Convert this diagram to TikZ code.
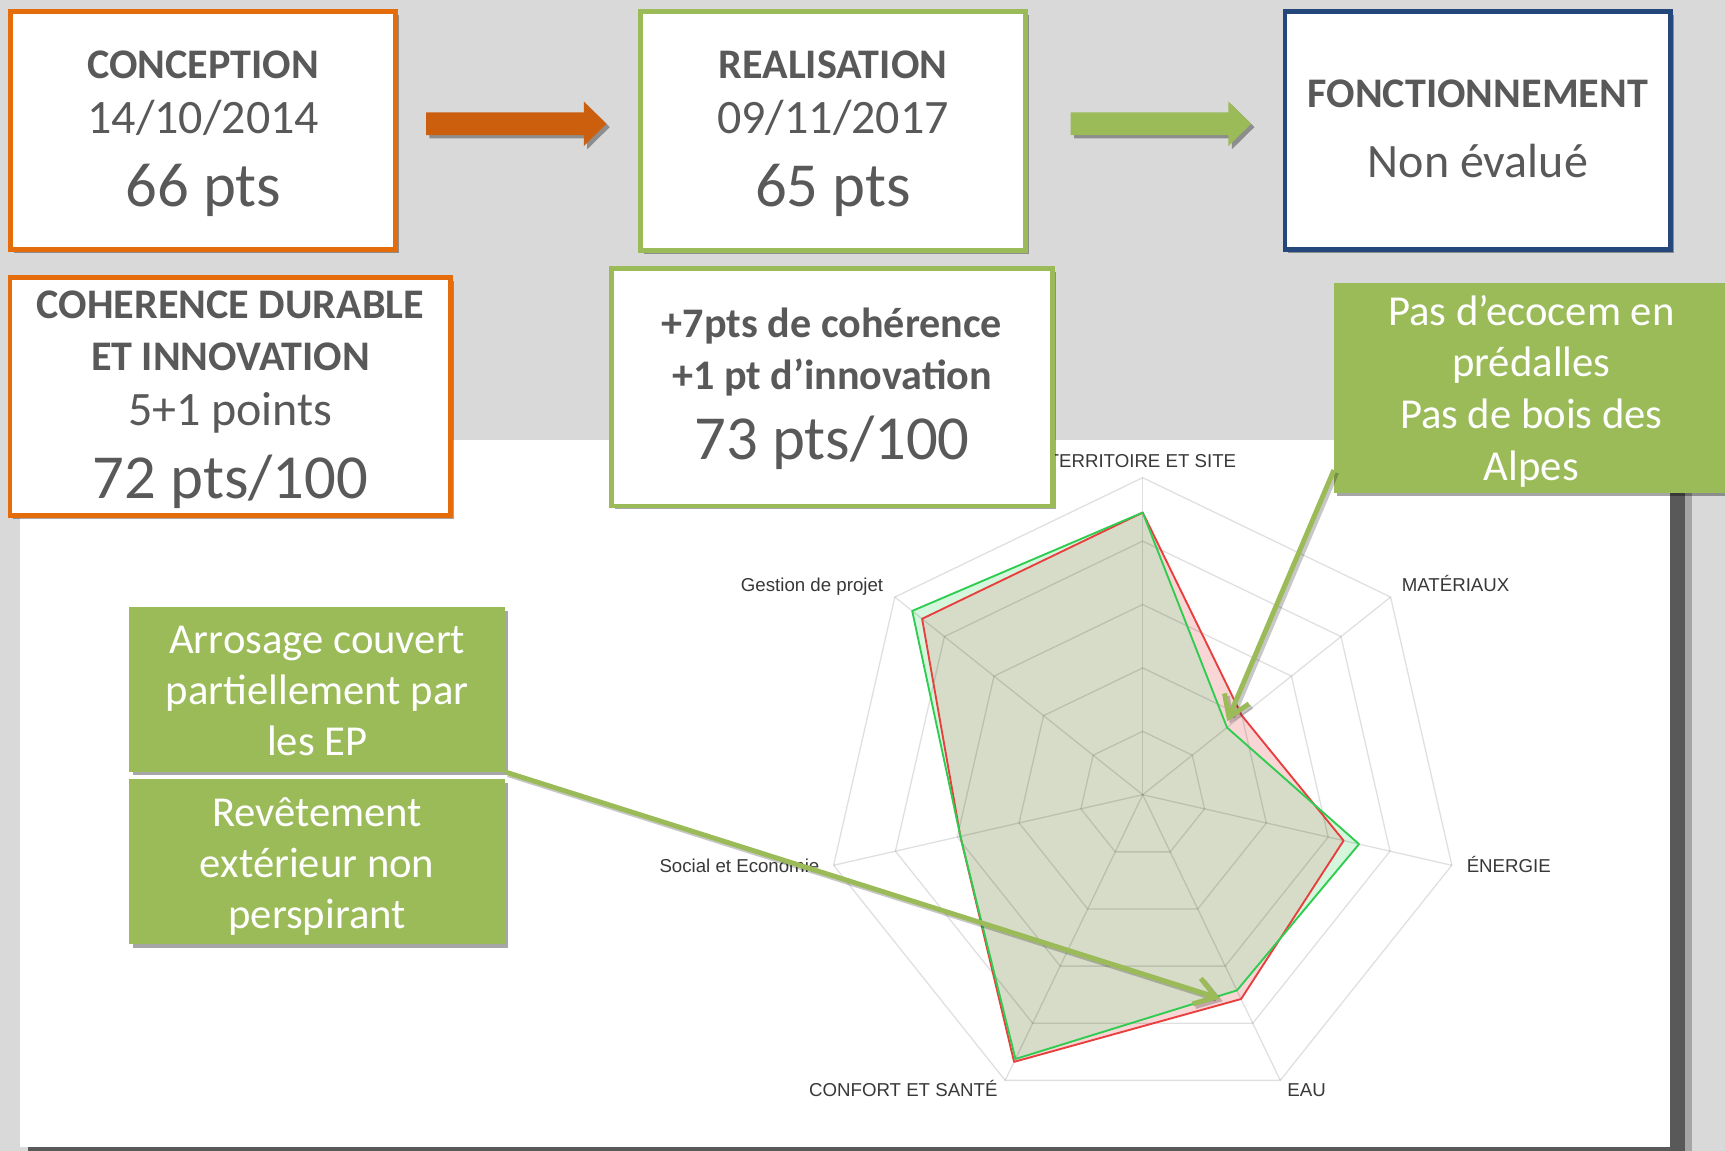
\documentclass[tikz,border=0pt]{standalone}
\usepackage{fontspec}
\setmainfont{Carlito}
\newfontfamily\chartfont{Liberation Sans}
\usetikzlibrary{shapes.arrows,shadows,arrows.meta}
\definecolor{bggray}{RGB}{217,217,217}
\definecolor{txtgray}{RGB}{89,89,89}
\definecolor{orangeB}{RGB}{228,108,10}
\definecolor{orangeA}{RGB}{204,95,14}
\definecolor{greenB}{RGB}{155,187,89}
\definecolor{blueB}{RGB}{37,72,124}
\definecolor{shadowgray}{RGB}{89,89,89}
\definecolor{serieG}{RGB}{46,204,80}
\definecolor{serieR}{RGB}{232,62,62}
\definecolor{fillG}{RGB}{213,245,221}
\definecolor{fillR}{RGB}{248,214,214}
\definecolor{fillO}{RGB}{214,220,200}
\definecolor{labgray}{RGB}{56,56,56}
\begin{document}
\begin{tikzpicture}[x=0.825pt,y=-0.825pt,
  boxshadow/.style={drop shadow={shadow xshift=2.5pt,shadow yshift=-2.5pt,fill=black,opacity=0.35}},
  wbox/.style={draw=#1,fill=white,line width=3.55pt,inner sep=0pt,boxshadow},
  gbox/.style={fill=greenB,inner sep=0pt,boxshadow},
  headtxt/.style={font=\fontsize{31.6}{36}\selectfont\bfseries,text=txtgray,inner sep=0pt,anchor=base},
  midtxt/.style={font=\fontsize{36}{40}\selectfont,text=txtgray,inner sep=0pt,anchor=base},
  bigtxt/.style={font=\fontsize{47}{52}\selectfont,text=txtgray,inner sep=0pt,anchor=base},
  ctxt/.style={font=\fontsize{32}{38}\selectfont,text=white,inner sep=0pt,anchor=base},
  lab/.style={font=\chartfont\fontsize{14}{16}\selectfont,text=labgray,inner sep=0pt},
  blockarrow/.style={single arrow,fill=#1,draw=none,inner sep=0pt,inner ysep=8.3pt,
     minimum height=135.3pt,minimum width=33pt,single arrow head extend=8.2pt,
     single arrow tip angle=89,anchor=tail,boxshadow},
  gridline/.style={draw=black,opacity=0.12,line width=1pt},
  callarrow/.style={draw=greenB,line width=3.7pt,-{Straight Barb[length=15pt,width=20pt]},
     preaction={draw=black,opacity=0.22,line width=3.7pt,transform canvas={xshift=2pt,yshift=-2pt}}},
]
\fill[bggray] (0,0) rectangle (1568,1046);
\useasboundingbox (0,0) rectangle (1568,1046);

% chart panel
\fill[shadowgray] (25,406) rectangle (1532,1050);
\fill[shadowgray,opacity=0.4] (1532,410) rectangle (1538,1050);
\fill[white] (18,400) rectangle (1518,1042.4);

% radar chart
\begin{scope}[shift={(1038.7,722.4)},x=0.825pt,y=0.825pt]
  \fill[fillR] (90:256.5) -- (38.571:115.3) -- (-12.857:187.3) -- (-64.286:206.1) -- (-115.714:269.5) -- (-167.143:170) -- (141.429:256.5) -- cycle;
  \fill[fillG] (90:256.5) -- (38.571:98) -- (-12.857:201.7) -- (-64.286:197.4) -- (-115.714:266.6) -- (-167.143:170) -- (141.429:268) -- cycle;
  \begin{scope}
    \clip (90:256.5) -- (38.571:115.3) -- (-12.857:187.3) -- (-64.286:206.1) -- (-115.714:269.5) -- (-167.143:170) -- (141.429:256.5) -- cycle;
    \fill[fillO] (90:256.5) -- (38.571:98) -- (-12.857:201.7) -- (-64.286:197.4) -- (-115.714:266.6) -- (-167.143:170) -- (141.429:268) -- cycle;
  \end{scope}
  \foreach \r in {57.64,115.28,172.92,230.56,288.2}
    \draw[gridline] (90:\r) -- (38.571:\r) -- (-12.857:\r) -- (-64.286:\r) -- (-115.714:\r) -- (-167.143:\r) -- (141.429:\r) -- cycle;
  \foreach \a in {90,38.571,-12.857,-64.286,-115.714,-167.143,141.429}
    \draw[gridline] (0,0) -- (\a:288.2);
  \draw[serieR,line width=1.4pt,line join=round] (90:256.5) -- (38.571:115.3) -- (-12.857:187.3) -- (-64.286:206.1) -- (-115.714:269.5) -- (-167.143:170) -- (141.429:256.5) -- cycle;
  \draw[serieG,line width=1.4pt,line join=round] (90:256.5) -- (38.571:98) -- (-12.857:201.7) -- (-64.286:197.4) -- (-115.714:266.6) -- (-167.143:170) -- (141.429:268) -- cycle;
\end{scope}

% chart labels
\node[lab,anchor=base] (lterr) at (1038,424.8) {TERRITOIRE ET SITE};
\node[lab,anchor=base west] (lmat) at (1274,537.6) {MATÉRIAUX};
\node[lab,anchor=base west] (lener) at (1333,793) {ÉNERGIE};
\node[lab,anchor=base west] (leau) at (1170,997) {EAU};
\node[lab,anchor=base east] (lconf) at (907,997) {CONFORT ET SANTÉ};
\node[lab,anchor=base east] (lsoc) at (745,793) {Social et Economie};
\node[lab,anchor=base east] (lgest) at (803,537.6) {Gestion de projet};

% top boxes
\node[wbox=orangeB,minimum width=288.8pt,minimum height=178.6pt] (conc) at (184.8,118.6) {};
\node[headtxt] (concT) at (184.8,71.2) {CONCEPTION};
\node[midtxt] (concD) at (184.8,121.8) {14/10/2014};
\node[bigtxt] (concP) at (184.8,187.9) {66 pts};

\node[wbox=greenB,minimum width=288.3pt,minimum height=179.4pt] (real) at (757.2,119.1) {};
\node[headtxt] (realT) at (757.2,71.2) {REALISATION};
\node[midtxt] (realD) at (757.2,121.8) {09/11/2017};
\node[bigtxt] (realP) at (757.2,187.9) {65 pts};

\node[wbox=blueB,minimum width=289pt,minimum height=178.4pt] (fonc) at (1343.3,118.8) {};
\node[headtxt] (foncT) at (1343.3,97.5) {FONCTIONNEMENT};
\node[midtxt] (foncD) at (1343.3,161.5) {Non évalué};

\node[blockarrow=orangeA] (arrA) at (387,112.5) {};
\node[blockarrow=greenB] (arrB) at (973,112.5) {};

% second row boxes
\node[wbox=orangeB,minimum width=330.7pt,minimum height=178.8pt] (coh) at (209.4,360.5) {};
\node[headtxt] (cohT1) at (209.4,289.4) {COHERENCE DURABLE};
\node[headtxt] (cohT2) at (209.4,336.4) {ET INNOVATION};
\node[midtxt] (cohD) at (209.4,387) {5+1 points};
\node[bigtxt] (cohP) at (209.4,453) {72 pts/100};

\node[wbox=greenB,minimum width=330.7pt,minimum height=178.1pt] (real2) at (756.3,351.9) {};
\node[headtxt] (real2T1) at (756.3,306.6) {+7pts de cohérence};
\node[headtxt] (real2T2) at (756.3,354) {+1 pt d’innovation};
\node[bigtxt] (real2P) at (756.3,418) {73 pts/100};

% callouts
\node[gbox,minimum width=293.1pt,minimum height=157.1pt] (callR) at (1390.35,352.8) {};
\node[ctxt] (callR1) at (1392,295.5) {Pas d’ecocem en};
\node[ctxt] (callR2) at (1392,342.5) {prédalles};
\node[ctxt] (callR3) at (1392,389.5) {Pas de bois des};
\node[ctxt] (callR4) at (1392,436.5) {Alpes};

\node[gbox,minimum width=281.7pt,minimum height=123.3pt] (callL1) at (288.3,626.75) {};
\node[ctxt] (callL1a) at (288.3,594) {Arrosage couvert};
\node[ctxt] (callL1b) at (288.3,640) {partiellement par};
\node[ctxt] (callL1c) at (288.3,686.4) {les EP};

\node[gbox,minimum width=281.7pt,minimum height=123.75pt] (callL2) at (288.3,783.5) {};
\node[ctxt] (callL2a) at (288.3,751.5) {Revêtement};
\node[ctxt] (callL2b) at (288.3,797.5) {extérieur non};
\node[ctxt] (callL2c) at (288.3,844) {perspirant};

% callout arrows
\coordinate (tipM) at (1115.5,655.5);
\coordinate (tipE) at (1109,907.6);
\draw[callarrow] ([yshift=17.3pt]callR.south west) -- (tipM);
\draw[callarrow] (callL1.south east) -- (tipE);
\end{tikzpicture}
\end{document}
